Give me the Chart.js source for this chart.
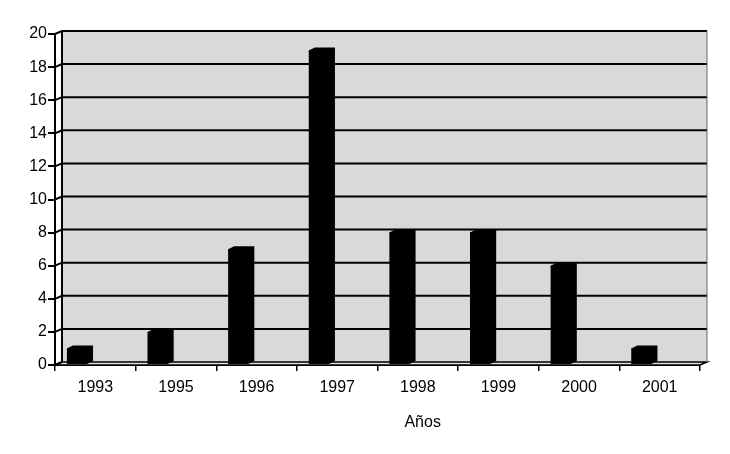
<!DOCTYPE html>
<html>
<head>
<meta charset="utf-8">
<script src="https://cdn.jsdelivr.net/npm/chart.js@4"></script>
<style>
  html, body { margin: 0; padding: 0; background: #fff; }
</style>
</head>
<body>
<canvas id="myChart" width="730" height="454"></canvas>
<script>
const years = ["1993", "1995", "1996", "1997", "1998", "1999", "2000", "2001"];
const counts = [1, 2, 7, 19, 8, 8, 6, 1];
const yTicks = [0, 2, 4, 6, 8, 10, 12, 14, 16, 18, 20];
const xTitle = "Años";

const DX = 7, DY = 3;
const FONT = { family: "Liberation Sans", size: 16 };

// back wall, floor and 3D gridlines, drawn behind the bars
const wallPlugin = {
  id: "wall",
  beforeDatasetsDraw(chart) {
    const { ctx, chartArea: a, scales } = chart;
    ctx.save();
    ctx.fillStyle = "#d9d9d9";
    ctx.fillRect(a.left + DX, a.top - DY, a.right - a.left, a.bottom - a.top);
    // floor
    ctx.beginPath();
    ctx.moveTo(a.left, a.bottom);
    ctx.lineTo(a.left + DX, a.bottom - DY);
    ctx.lineTo(a.right + DX, a.bottom - DY);
    ctx.lineTo(a.right, a.bottom);
    ctx.closePath();
    ctx.fillStyle = "#e0e0e0";
    ctx.fill();
    ctx.strokeStyle = "#000";
    ctx.lineWidth = 1.5;
    ctx.stroke();
    // gridlines
    ctx.lineWidth = 2;
    yTicks.forEach(v => {
      const y = scales.y.getPixelForValue(v);
      ctx.beginPath();
      ctx.moveTo(a.left, y);
      ctx.lineTo(a.left + DX, y - DY);
      if (v > 0) ctx.lineTo(a.right + DX, y - DY);
      ctx.stroke();
    });
    // wall edges
    ctx.beginPath();
    ctx.moveTo(a.left + DX, a.top - DY);
    ctx.lineTo(a.left + DX, a.bottom - DY);
    ctx.stroke();
    ctx.lineWidth = 1;
    ctx.strokeStyle = "#666";
    ctx.beginPath();
    ctx.moveTo(a.right + DX, a.top - DY);
    ctx.lineTo(a.right + DX, a.bottom - DY);
    ctx.stroke();
    ctx.restore();
  },
  afterDatasetsDraw(chart) {
    // depth of each bar: top and right faces
    const { ctx, chartArea: a } = chart;
    const meta = chart.getDatasetMeta(0);
    ctx.save();
    ctx.fillStyle = "#000";
    meta.data.forEach(bar => {
      const l = bar.x - bar.width / 2, r = bar.x + bar.width / 2;
      ctx.beginPath();
      ctx.moveTo(l, bar.y);
      ctx.lineTo(l + DX - 1, bar.y - DY);
      ctx.lineTo(r + DX - 1, bar.y - DY);
      ctx.lineTo(r + DX - 1, bar.base - DY);
      ctx.lineTo(r, bar.base);
      ctx.closePath();
      ctx.fill();
    });
    // axis title, sits right of centre in the original
    ctx.fillStyle = "#000";
    ctx.font = "16px 'Liberation Sans'";
    ctx.textAlign = "center";
    ctx.textBaseline = "middle";
    ctx.fillText(xTitle, a.left + (a.right - a.left) * 0.57, 423);
    ctx.restore();
  }
};

new Chart(document.getElementById("myChart"), {
  type: "bar",
  data: {
    labels: years,
    datasets: [
      { data: counts, backgroundColor: "#000", barPercentage: 0.55, categoryPercentage: 0.91 },
      { data: counts.map(() => null), backgroundColor: "#000", barPercentage: 0.55, categoryPercentage: 0.91 }
    ]
  },
  options: {
    responsive: false,
    animation: false,
    devicePixelRatio: 1,
    layout: { padding: { top: 34, right: 30, left: 0, bottom: 0 } },
    plugins: { legend: { display: false }, tooltip: { enabled: false } },
    scales: {
      x: {
        grid: { offset: true, drawOnChartArea: false, color: "#000", lineWidth: 1.5, tickLength: 6 },
        border: { color: "#000", width: 2 },
        ticks: { color: "#000", font: FONT, padding: 7, autoSkip: false, maxRotation: 0 },
        afterFit: s => { s.height = 89; }
      },
      y: {
        min: 0, max: 20,
        afterBuildTicks: s => { s.ticks = yTicks.map(v => ({ value: v })); },
        grid: { drawOnChartArea: false, color: "#000", lineWidth: 2, tickLength: 7 },
        border: { color: "#000", width: 2 },
        ticks: { color: "#000", font: FONT, padding: 1, autoSkip: false },
        afterFit: s => { s.width = 55; }
      }
    }
  },
  plugins: [wallPlugin]
});
</script>
</body>
</html>
